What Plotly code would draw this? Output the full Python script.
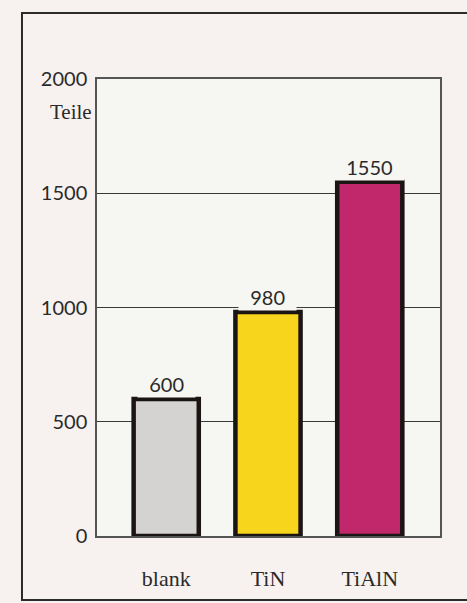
import plotly.graph_objects as go

categories = ["blank", "TiN", "TiAlN"]
values = [600, 980, 1550]
bar_colors = ["#d4d3d1", "#f7d51d", "#c1276b"]
tick_vals = [0, 500, 1000, 1500, 2000]
tick_text = ["0", "500", "1000", "1500", "2000"]
unit_label = "Teile"

PLOT_BG = "#f6f6f2"
PAPER_BG = "#f7f2ef"

fig = go.Figure()
fig.add_trace(go.Bar(
    x=list(range(len(categories))),
    y=values,
    width=0.64,
    marker=dict(color=bar_colors, line=dict(color="#1a1414", width=4.5)),
    hoverinfo="skip",
))

for i, v in enumerate(values):
    fig.add_annotation(
        x=i, y=v, xref="x", yref="y", text="\u00a0\u00a0" + str(v) + "\u00a0\u00a0",
        showarrow=False,
        yanchor="bottom", yshift=1,
        font=dict(family="Lato", size=20, color="#2a2a2a"),
        bgcolor=PLOT_BG, borderpad=1,
    )

# unit label under top tick
fig.add_annotation(
    x=0, y=1, xref="paper", yref="paper", text=unit_label, showarrow=False,
    xanchor="right", yanchor="top", xshift=-3, yshift=-19,
    font=dict(family="Liberation Serif", size=21, color="#2a2a2a"),
)

# outer frame
fig.add_shape(type="rect", xref="paper", yref="paper",
              x0=-0.2187, x1=1.3, y0=-0.14, y1=1.1444,
              line=dict(color="#2b2b2b", width=2), layer="below")

fig.update_layout(
    width=467, height=603,
    margin=dict(l=97, r=27, t=79, b=67),
    paper_bgcolor=PAPER_BG,
    plot_bgcolor=PLOT_BG,
    showlegend=False,
    xaxis=dict(
        range=[-0.68, 2.69],
        tickmode="array", tickvals=list(range(len(categories))), ticktext=categories,
        tickfont=dict(family="Liberation Serif", size=22, color="#2a2a2a"),
        showgrid=False, zeroline=False,
        showline=True, linecolor="#555555", linewidth=1.5, mirror=True,
        ticks="", ticklabelstandoff=22,
    ),
    yaxis=dict(
        range=[0, 2000],
        tickmode="array", tickvals=tick_vals, ticktext=tick_text,
        tickfont=dict(family="Lato", size=20, color="#2a2a2a"),
        showgrid=True, gridcolor="#3a3a3a", gridwidth=1,
        zeroline=False,
        showline=True, linecolor="#555555", linewidth=1.5, mirror=True,
        ticks="", ticklabelstandoff=4,
    ),
)

fig.write_html("out.html")
